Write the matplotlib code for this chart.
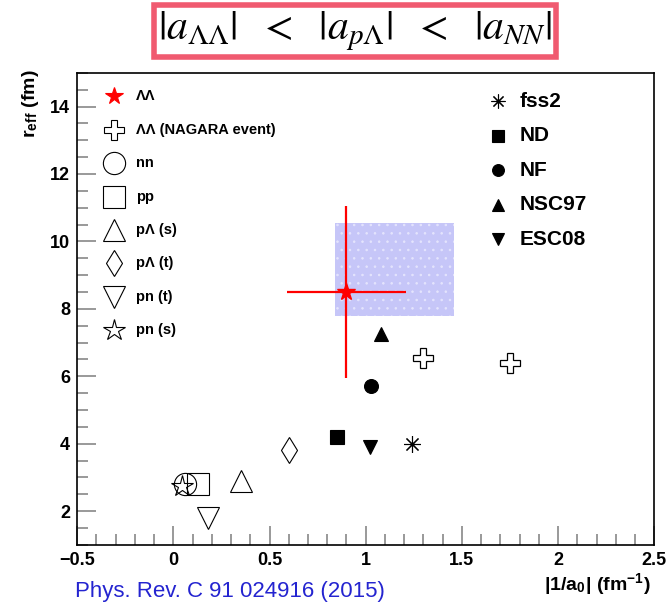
import matplotlib.pyplot as plt
import matplotlib.patches as mpatches
from matplotlib.ticker import MultipleLocator

plt.rcParams['font.family'] = ['Liberation Sans', 'DejaVu Sans']
plt.rcParams['mathtext.fontset'] = 'stix'
plt.rcParams['hatch.linewidth'] = 0.6

# ---- data ----
ll_x, ll_y = 0.9, 8.5          # Lambda-Lambda (this measurement)
ll_xerr, ll_yerr = 0.31, 2.55
box_x = [0.84, 1.46]           # shaded band
box_y = [7.8, 10.55]

nagara_x = [1.30, 1.75]
nagara_y = [6.55, 6.4]

# experimental points
exp_labels = ["nn", "pp", "p\u039b (s)", "p\u039b (t)", "pn (t)", "pn (s)"]
exp_markers = ["o", "s", "^", "d", "v", "*"]
exp_x = [0.06, 0.13, 0.35, 0.60, 0.18, 0.045]
exp_y = [2.8, 2.8, 2.9, 3.8, 1.8, 2.75]

# model predictions
mod_labels = ["fss2", "ND", "NF", "NSC97", "ESC08"]
mod_markers = [(8, 2, 0), "s", "o", "^", "v"]
mod_x = [1.24, 0.85, 1.03, 1.08, 1.02]
mod_y = [4.0, 4.2, 5.7, 7.25, 3.9]

fig = plt.figure(figsize=(6.71, 6.02), dpi=100)
ax = fig.add_axes([0.115, 0.095, 0.86, 0.784])

ax.add_patch(mpatches.Rectangle((box_x[0], box_y[0]), box_x[1] - box_x[0], box_y[1] - box_y[0],
                                facecolor='#c6c6f8', edgecolor='#e4e4fd', hatch='..', lw=0))

ax.errorbar(ll_x, ll_y, xerr=ll_xerr, yerr=ll_yerr, fmt='*', color='red', ms=13, elinewidth=1.6,
            capsize=0, zorder=5)

ax.plot(nagara_x, nagara_y, marker='P', ms=15, mfc='white', mec='black', mew=0.9, ls='none')

for m, x, y in zip(exp_markers, exp_x, exp_y):
    ax.plot(x, y, marker=m, ms=16 if m != 'd' else 13, mfc='none', mec='black', mew=0.8, ls='none')

for m, x, y in zip(mod_markers, mod_x, mod_y):
    ax.plot(x, y, marker=m, ms=12 if isinstance(m, tuple) else 10, color='black', mew=0.8, ls='none')

ax.set_xlim(-0.5, 2.5)
ax.set_ylim(1, 15)
ax.xaxis.set_minor_locator(MultipleLocator(0.1))
ax.yaxis.set_major_locator(MultipleLocator(2))
ax.yaxis.set_minor_locator(MultipleLocator(0.5))
ax.set_xticks([-0.5, 0, 0.5, 1, 1.5, 2, 2.5], ["\u22120.5", "0", "0.5", "1", "1.5", "2", "2.5"])
ax.tick_params(which='both', direction='in', color='#888888', labelsize=13, width=1.2)
ax.tick_params(which='major', length=14, pad=5)
ax.tick_params(which='minor', length=8)
for lab in ax.get_xticklabels() + ax.get_yticklabels():
    lab.set_fontweight('bold')
for s in ax.spines.values():
    s.set_linewidth(1.2)

# left legend (experiments)
left_items = [("*", "red", "red", 13, "\u039b\u039b"),
              ("P", "white", "black", 15, "\u039b\u039b (NAGARA event)")]
left_items += [(m, "none", "black", 16 if m != 'd' else 13, l) for m, l in zip(exp_markers, exp_labels)]
for i, (m, fc, ec, ms, lab) in enumerate(left_items):
    yy = 14.3 - i * 0.99
    ax.plot(-0.31, yy, marker=m, ms=ms, mfc=fc, mec=ec, mew=0.8, clip_on=False)
    ax.text(-0.195, yy, lab, fontsize=10.5, fontweight='bold', va='center')

# right legend (models)
for i, (m, lab) in enumerate(zip(mod_markers, mod_labels)):
    yy = 14.15 - i * 1.02
    ax.plot(1.69, yy, marker=m, ms=10 if isinstance(m, tuple) else 8.5, color='black', mew=0.8)
    ax.text(1.80, yy, lab, fontsize=15, fontweight='bold', va='center')

fig.text(0.045, 0.885, r"r$_{\mathregular{eff}}$ (fm)", rotation=90, fontsize=14, fontweight='bold',
         va='top', ha='center')
fig.text(0.97, 0.028, r"|1/a$_{\mathregular{0}}$| (fm$^{\mathregular{-1}}$)", fontsize=14,
         fontweight='bold', ha='right', va='center')
fig.text(0.112, 0.035, "Phys. Rev. C 91 024916 (2015)", fontsize=16, color='#2424d0', va='top')

fig.text(0.529, 0.948, r"$|a_{\Lambda\Lambda}|\ \ <\ \ |a_{p\Lambda}|\ \ <\ \ |a_{NN}|$", fontsize=30,
         ha='center', va='center',
         bbox=dict(boxstyle='square,pad=0.1', facecolor='white', edgecolor='#f05a70', linewidth=4))

fig.savefig("out.png", dpi=100)
